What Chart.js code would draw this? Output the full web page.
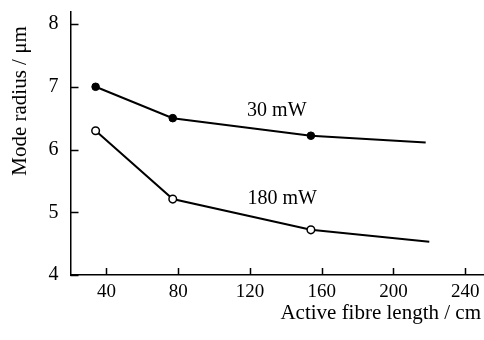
<!DOCTYPE html>
<html>
<head>
  <meta charset="UTF-8" />
  <title>Mode radius vs active fibre length</title>
  <script src="https://cdn.jsdelivr.net/npm/chart.js"></script>
  <style>
    body { margin: 0; background: #fff; }
    #wrap { width: 484px; height: 340px; }
  </style>
</head>
<body>

<div id="wrap"><canvas id="modeChart"></canvas></div>

<script>
  // 1) Data
  const lengths30 = [34, 77, 154, 218];       // cm
  const radius30 = [7.0, 6.5, 6.22, 6.11];     // um
  const lengths180 = [34, 77, 154, 220];
  const radius180 = [6.30, 5.21, 4.72, 4.53];
  const seriesNames = ['30 mW', '180 mW'];
  const xTicks = [40, 80, 120, 160, 200, 240];
  const yTicks = [4, 5, 6, 7, 8];
  // where the curve names sit, in data units
  const nameAnchors = [[135, 6.62], [138, 5.22]];

  const FONT = '"Liberation Serif", "DejaVu Serif", serif';

  const toPoints = (xs, ys) => xs.map((x, i) => ({ x: x, y: ys[i] }));
  // markers on measured points only, not on the end of the tail
  const markerSizes = n => Array.from({ length: n }, (_, i) => (i < n - 1 ? 3.8 : 0));

  // 2) Inward tick marks, curve names and axis titles
  const extras = {
    id: 'extras',
    afterDraw(chart) {
      const c = chart.ctx;
      const xs = chart.scales.x, ys = chart.scales.y;
      const area = chart.chartArea;
      c.save();
      c.strokeStyle = '#000';
      c.lineWidth = 1.5;
      c.beginPath();
      xTicks.forEach(v => {
        const px = Math.round(xs.getPixelForValue(v)) + 0.5;
        c.moveTo(px, area.bottom);
        c.lineTo(px, area.bottom - 7);
      });
      yTicks.forEach(v => {
        const py = Math.round(ys.getPixelForValue(v)) + 0.5;
        c.moveTo(area.left, py);
        c.lineTo(area.left + 8, py);
      });
      c.stroke();

      c.fillStyle = '#000';
      c.font = '20px ' + FONT;
      c.textAlign = 'center';
      c.textBaseline = 'middle';
      nameAnchors.forEach((a, i) => {
        c.fillText(seriesNames[i], xs.getPixelForValue(a[0]), ys.getPixelForValue(a[1]));
      });

      c.font = '21px ' + FONT;
      c.textAlign = 'right';
      c.fillText('Active fibre length / cm', 481, 313);

      c.translate(20, 101);
      c.rotate(-Math.PI / 2);
      c.textAlign = 'center';
      c.fillText('Mode radius / \u03bcm', 0, 0);
      c.restore();
    }
  };

  // 3) Chart setup
  const ctx = document.getElementById('modeChart').getContext('2d');
  const myChart = new Chart(ctx, {
    type: 'line',
    data: {
      datasets: [{
        label: seriesNames[0],
        data: toPoints(lengths30, radius30),
        borderColor: '#000',
        borderWidth: 2,
        pointRadius: markerSizes(lengths30.length),
        pointBackgroundColor: '#000',
        pointBorderColor: '#000',
        pointBorderWidth: 1,
        tension: 0
      }, {
        label: seriesNames[1],
        data: toPoints(lengths180, radius180),
        borderColor: '#000',
        borderWidth: 2,
        pointRadius: markerSizes(lengths180.length),
        pointBackgroundColor: '#fff',
        pointBorderColor: '#000',
        pointBorderWidth: 1.5,
        tension: 0
      }]
    },
    options: {
      responsive: true,
      maintainAspectRatio: false,
      animation: false,
      layout: { autoPadding: false, padding: { top: 11.5, right: 0, left: 0, bottom: 0 } },
      scales: {
        x: {
          type: 'linear',
          min: 20,
          max: 250.5,
          afterBuildTicks: s => { s.ticks = xTicks.map(v => ({ value: v })); },
          afterFit: s => { s.height = 65; s.paddingLeft = 0; s.paddingRight = 0; },
          grid: { display: false, drawTicks: false },
          border: { display: true, color: '#000', width: 1.5 },
          ticks: {
            color: '#000',
            padding: 6,
            maxRotation: 0,
            font: { family: FONT, size: 19 }
          }
        },
        y: {
          min: 4,
          max: 8.2,
          afterBuildTicks: s => { s.ticks = yTicks.map(v => ({ value: v })); },
          afterFit: s => { s.width = 70.5; s.paddingTop = 0; s.paddingBottom = 0; },
          grid: { display: false, drawTicks: false },
          border: { display: true, color: '#000', width: 1.5 },
          ticks: {
            color: '#000',
            padding: 12,
            font: { family: FONT, size: 20 }
          }
        }
      },
      plugins: {
        legend: { display: false },
        tooltip: { enabled: false }
      }
    },
    plugins: [extras]
  });
</script>

</body>
</html>
